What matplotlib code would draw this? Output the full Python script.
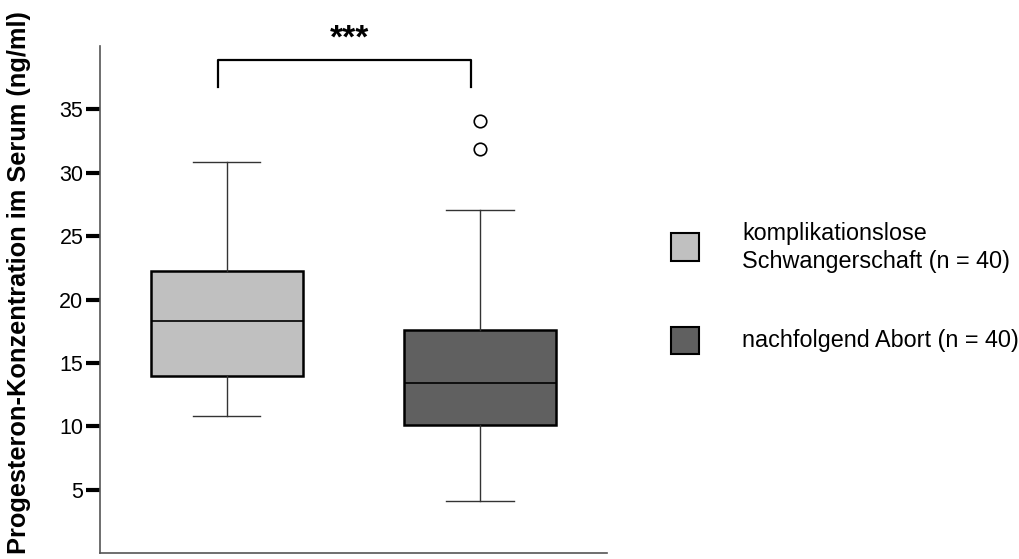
import matplotlib.pyplot as plt
from matplotlib.patches import Rectangle

plt.rcParams["font.family"] = ["Liberation Sans", "DejaVu Sans"]

# Box statistics (ng/ml)
GROUP_LABELS = ["komplikationslose\nSchwangerschaft (n = 40)", "nachfolgend Abort (n = 40)"]
GROUP_COLORS = ["#c0c0c0", "#606060"]
WHISKER_LOW = [10.84, 4.13]
Q1_VALUES = [14.0, 10.13]
MEDIANS = [18.34, 13.45]
Q3_VALUES = [22.23, 17.63]
WHISKER_HIGH = [30.82, 27.1]
OUTLIERS = [[], [34.05, 31.84]]
Y_TICKS = [5, 10, 15, 20, 25, 30, 35]
SIGNIFICANCE = "***"
Y_LABEL = "Progesteron-Konzentration im Serum (ng/ml)"

W, H = 1020, 559
fig = plt.figure(figsize=(W / 100, H / 100), dpi=100)
ax = fig.add_axes([100 / W, (H - 553.3) / H, 506.7 / W, (553.3 - 46) / H])

stats = []
for i in range(len(MEDIANS)):
    stats.append({
        "whislo": WHISKER_LOW[i],
        "q1": Q1_VALUES[i],
        "med": MEDIANS[i],
        "q3": Q3_VALUES[i],
        "whishi": WHISKER_HIGH[i],
        "fliers": OUTLIERS[i],
    })

positions = [1, 2]
bp = ax.bxp(
    stats,
    positions=positions,
    widths=0.6,
    capwidths=0.265,
    patch_artist=True,
    showfliers=True,
    boxprops=dict(edgecolor="black", linewidth=1.8),
    medianprops=dict(color="black", linewidth=1.2),
    whiskerprops=dict(color="#333333", linewidth=1.0),
    capprops=dict(color="#333333", linewidth=1.0),
    flierprops=dict(marker="o", markerfacecolor="white", markeredgecolor="black",
                    markersize=9, markeredgewidth=1.2),
)
for patch, color in zip(bp["boxes"], GROUP_COLORS):
    patch.set_facecolor(color)

ax.set_xlim(0.5, 2.5)
ax.set_ylim(0, 40)
ax.set_xticks([])
ax.set_yticks(Y_TICKS)
ax.tick_params(axis="y", direction="out", length=10, width=3, color="black",
               labelsize=15.5, pad=2)
for side in ["top", "right"]:
    ax.spines[side].set_visible(False)
for side in ["left", "bottom"]:
    ax.spines[side].set_color("#555555")
    ax.spines[side].set_linewidth(1.2)

# significance bracket
bx0, bx1 = 0.965, 1.965
ytop, yend = 38.87, 36.74
ax.plot([bx0, bx0, bx1, bx1], [yend, ytop, ytop, yend], color="black",
        linewidth=1.6, clip_on=False)
fig.text(350 / W, 1 - 39 / H, SIGNIFICANCE, ha="center", va="center",
         fontsize=24, fontweight="bold")

fig.text(19 / W, 1 - 282.5 / H, Y_LABEL, rotation=90, ha="center", va="center",
         fontsize=18.3, fontweight="bold")

# legend drawn by hand to match layout
legend_y = [(233, 261, 247.5), (327, 354, 340)]
for (top, bottom, center), color, label in zip(legend_y, GROUP_COLORS, GROUP_LABELS):
    fig.patches.append(Rectangle((671 / W, 1 - bottom / H), 28 / W, (bottom - top) / H,
                                 transform=fig.transFigure, facecolor=color,
                                 edgecolor="black", linewidth=1.5))
    fig.text(742 / W, 1 - center / H, label, ha="left", va="center",
             fontsize=16.8, linespacing=1.25)

fig.savefig("out.png", dpi=100)
